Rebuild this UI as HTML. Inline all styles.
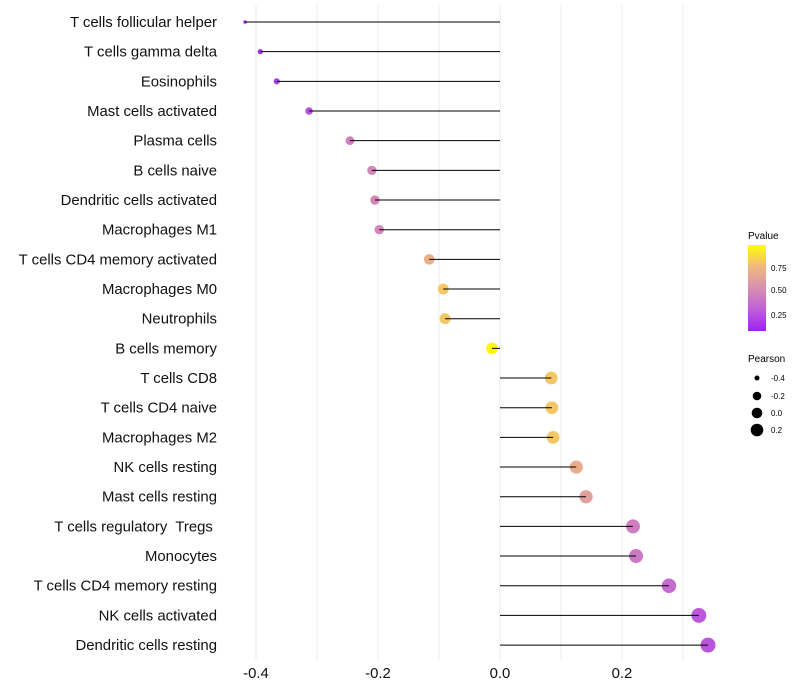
<!DOCTYPE html>
<html><head><meta charset="utf-8"><style>body{margin:0;background:#fff}svg{display:block;font-family:"Liberation Sans",sans-serif}text{white-space:pre}</style></head>
<body>
<svg id="chart" width="800" height="700">
<defs><linearGradient id="pg" x1="0" y1="1" x2="0" y2="0">
<stop offset="0" stop-color="#a020f0"/><stop offset="0.25" stop-color="#c060d8"/><stop offset="0.5" stop-color="#d890b0"/><stop offset="0.75" stop-color="#f0b880"/><stop offset="1" stop-color="#ffff00"/></linearGradient></defs>
<g id="grid"></g><g id="marks"></g><g id="axes"></g>
<g>
<text x="748" y="239" font-size="10">Pvalue</text>
<rect x="748" y="245" width="18" height="86" fill="url(#pg)"/>
<text x="771" y="271" font-size="8">0.75</text>
<text x="771" y="293" font-size="8">0.50</text>
<text x="771" y="318" font-size="8">0.25</text>
</g>
<g>
<text x="748" y="362" font-size="10">Pearson</text>
<circle cx="757" cy="378" r="2.5"/><text x="771" y="381" font-size="8">-0.4</text>
<circle cx="757" cy="396" r="4.3"/><text x="771" y="399" font-size="8">-0.2</text>
<circle cx="757" cy="413" r="5.3"/><text x="771" y="416" font-size="8">0.0</text>
<circle cx="757" cy="430" r="6.3"/><text x="771" y="433" font-size="8">0.2</text>
</g>
</svg>
<script>
const cells=["T cells follicular helper","T cells gamma delta","Eosinophils","Mast cells activated","Plasma cells","B cells naive","Dendritic cells activated","Macrophages M1","T cells CD4 memory activated","Macrophages M0","Neutrophils","B cells memory","T cells CD8","T cells CD4 naive","Macrophages M2","NK cells resting","Mast cells resting","T cells regulatory  Tregs ","Monocytes","T cells CD4 memory resting","NK cells activated","Dendritic cells resting"];
const pearson=[-0.418,-0.393,-0.366,-0.313,-0.246,-0.21,-0.205,-0.198,-0.116,-0.093,-0.09,-0.013,0.084,0.085,0.087,0.125,0.141,0.218,0.223,0.277,0.326,0.341];
const pvalue=[0.05,0.08,0.12,0.18,0.42,0.45,0.45,0.45,0.7,0.8,0.8,0.98,0.8,0.8,0.8,0.68,0.6,0.4,0.38,0.3,0.22,0.2];
const xticks=[-0.4,-0.2,0.0,0.2];
const NS="http://www.w3.org/2000/svg";
const X=v=>500+v*610, Y=i=>22+i*29.67;
function col(p){const s=[[0,[160,32,240]],[0.25,[192,96,216]],[0.5,[216,144,176]],[0.75,[240,184,128]],[1,[255,255,0]]];
for(let k=1;k<s.length;k++){if(p<=s[k][0]){const t=(p-s[k-1][0])/(s[k][0]-s[k-1][0]);const c=s[k-1][1].map((a,j)=>Math.round(a+(s[k][1][j]-a)*t));return `rgb(${c})`;}}return "rgb(255,255,0)";}
function mk(t,a,p){const e=document.createElementNS(NS,t);for(const k in a)e.setAttribute(k,a[k]);p.appendChild(e);return e;}
const g=document.getElementById('grid'),m=document.getElementById('marks'),ax=document.getElementById('axes');
for(let v=-0.4;v<0.35;v+=0.1){const l=mk('line',{x1:X(v),x2:X(v),y1:5,y2:660,stroke:'#ebebeb','stroke-width':1},g);

}
cells.forEach((c,i)=>{
const t=mk('text',{x:217,y:Y(i)+5,'text-anchor':'end','font-size':14.9,fill:'#111'},ax);t.textContent=c;


const r=1.5+6*Math.sqrt(Math.max(0,pearson[i]+0.42)/0.76);
const d=mk('circle',{cx:X(pearson[i]),cy:Y(i),r:r,fill:col(pvalue[i])},m);


const l=mk('line',{x1:X(0),x2:X(pearson[i]),y1:Y(i),y2:Y(i),stroke:'#000','stroke-width':1},m);


});
xticks.forEach(v=>{const t=mk('text',{x:X(v),y:678,'text-anchor':'middle','font-size':14.9,fill:'#111'},ax);t.textContent=v.toFixed(1);

});
</script>
</body></html>
